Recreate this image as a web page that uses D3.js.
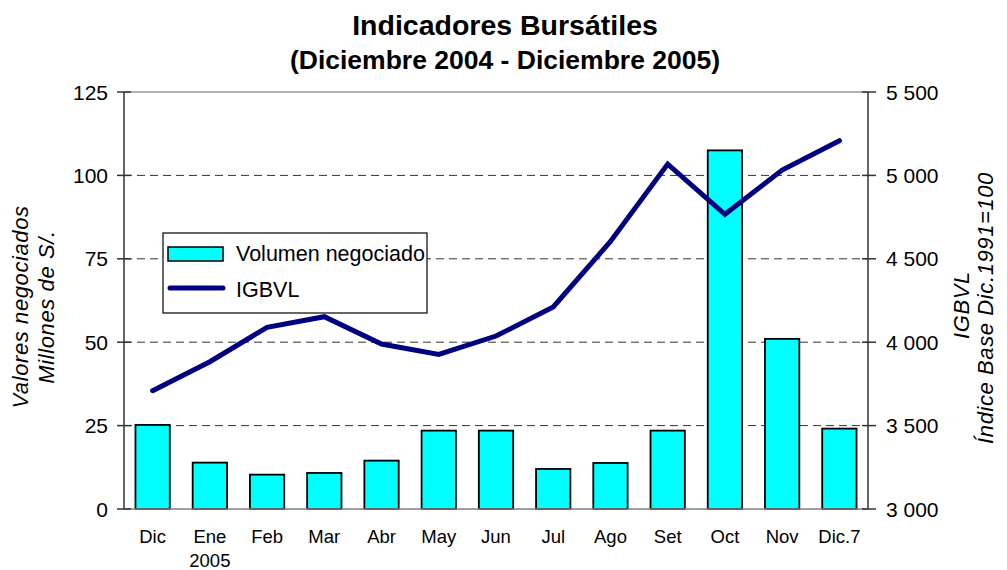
<!DOCTYPE html>
<html><head><meta charset="utf-8">
<script src="https://cdn.jsdelivr.net/npm/d3@7"></script>
<style>body{margin:0;background:#fff}svg{display:block;font-family:"Liberation Sans",Arial,sans-serif}</style>
</head><body><svg id="c" width="1007" height="570"></svg>
<script>
const categories = ["Dic","Ene","Feb","Mar","Abr","May","Jun","Jul","Ago","Set","Oct","Nov","Dic.7"];
const volumen = [25.2,13.9,10.3,10.8,14.5,23.5,23.5,12.0,13.8,23.5,107.5,51.0,24.1];
const igbvl = [3709,3883,4089,4153,3989,3927,4037,4211,4604,5068,4767,5032,5208];
const leftTicks = [0,25,50,75,100,125];
const rightTicks = [3000,3500,4000,4500,5000,5500];

const svg = d3.select("#c");
const L=124, R=868, T=92, B=509;
const x = d3.scaleBand().domain(categories).range([L,R]).paddingInner(0.4).paddingOuter(0.2);
const yL = d3.scaleLinear().domain([0,125]).range([B,T]);
const yR = d3.scaleLinear().domain([3000,5500]).range([B,T]);

// titles
svg.append("text").attr("x",505).attr("y",35).attr("text-anchor","middle")
  .attr("font-weight","bold").attr("font-size",28.5).text("Indicadores Bursátiles");
svg.append("text").attr("x",505).attr("y",69).attr("text-anchor","middle")
  .attr("font-weight","bold").attr("font-size",26.5).text("(Diciembre 2004 - Diciembre 2005)");

// gridlines
svg.append("g").selectAll("line").data(leftTicks.filter(d=>d>0 && d<125)).join("line")
  .attr("x1",L).attr("x2",R).attr("y1",d=>yL(d)).attr("y2",d=>yL(d))
  .attr("stroke","#333").attr("stroke-width",1).attr("stroke-dasharray","8,5");
svg.append("line").attr("x1",L).attr("x2",R).attr("y1",T).attr("y2",T).attr("stroke","#999").attr("stroke-width",1.5);

// bars
svg.append("g").selectAll("rect").data(categories).join("rect")
  .attr("x",d=>x(d)).attr("width",x.bandwidth())
  .attr("y",(d,i)=>yL(volumen[i])).attr("height",(d,i)=>B-yL(volumen[i]))
  .attr("fill","#00FFFF").attr("stroke","#000").attr("stroke-width",1.8);

// bottom axis line
svg.append("line").attr("x1",L).attr("x2",R).attr("y1",B).attr("y2",B).attr("stroke","#808080").attr("stroke-width",1.5);

// line
const line = d3.line().x((d,i)=>x(categories[i])+x.bandwidth()/2).y(d=>yR(d));
svg.append("path").datum(igbvl).attr("d",line).attr("fill","none")
  .attr("stroke","#000080").attr("stroke-width",5).attr("stroke-linejoin","miter").attr("stroke-linecap","round");

// left axis
const gl = svg.append("g");
gl.append("line").attr("x1",L).attr("x2",L).attr("y1",T).attr("y2",B).attr("stroke","#333").attr("stroke-width",1.5);
gl.selectAll(".t").data(leftTicks).join("line").attr("x1",L-7).attr("x2",L+7)
  .attr("y1",d=>yL(d)).attr("y2",d=>yL(d)).attr("stroke","#333").attr("stroke-width",1.5);
gl.selectAll("text").data(leftTicks).join("text").attr("x",108).attr("y",d=>yL(d)+7.5)
  .attr("text-anchor","end").attr("font-size",21).text(d=>d);

// right axis
const fmt = d=>d3.format(",")(d).replace(",", " ");
const gr = svg.append("g");
gr.append("line").attr("x1",R).attr("x2",R).attr("y1",T).attr("y2",B).attr("stroke","#333").attr("stroke-width",1.5);
gr.selectAll(".t").data(rightTicks).join("line").attr("x1",R-6).attr("x2",R+8)
  .attr("y1",d=>yR(d)).attr("y2",d=>yR(d)).attr("stroke","#333").attr("stroke-width",1.5);
gr.selectAll("text").data(rightTicks).join("text").attr("x",886).attr("y",d=>yR(d)+7.5)
  .attr("font-size",21).text(fmt);

// x labels
svg.append("g").selectAll("text").data(categories).join("text")
  .attr("x",d=>x(d)+x.bandwidth()/2).attr("y",543).attr("text-anchor","middle")
  .attr("font-size",18.5).text(d=>d);
svg.append("text").attr("x",x("Ene")+x.bandwidth()/2).attr("y",567).attr("text-anchor","middle")
  .attr("font-size",18.5).text("2005");

// axis titles
function vtext(xp, yp, txt, size){
  svg.append("text").attr("transform",`translate(${xp},${yp}) rotate(-90)`).attr("text-anchor","middle")
    .attr("font-style","italic").attr("font-size",size).attr("letter-spacing",0.6).text(txt);
}
vtext(28,307,"Valores negociados",22);
vtext(54,307,"Millones de S/.",22);
vtext(969,305,"IGBVL",22);
vtext(993,308,"Índice Base Dic.1991=100",22);

// legend
const lg = svg.append("g");
lg.append("rect").attr("x",163).attr("y",233).attr("width",264).attr("height",80)
  .attr("fill","#fff").attr("stroke","#000").attr("stroke-width",1.2);
lg.append("rect").attr("x",168).attr("y",247).attr("width",55).attr("height",14)
  .attr("fill","#00FFFF").attr("stroke","#000").attr("stroke-width",1.5);
lg.append("text").attr("x",236).attr("y",261).attr("font-size",21.5).text("Volumen negociado");
lg.append("line").attr("x1",170).attr("x2",223).attr("y1",288).attr("y2",288)
  .attr("stroke","#000080").attr("stroke-width",5).attr("stroke-linecap","round");
lg.append("text").attr("x",236).attr("y",297).attr("font-size",21.5).text("IGBVL");
</script></body></html>
